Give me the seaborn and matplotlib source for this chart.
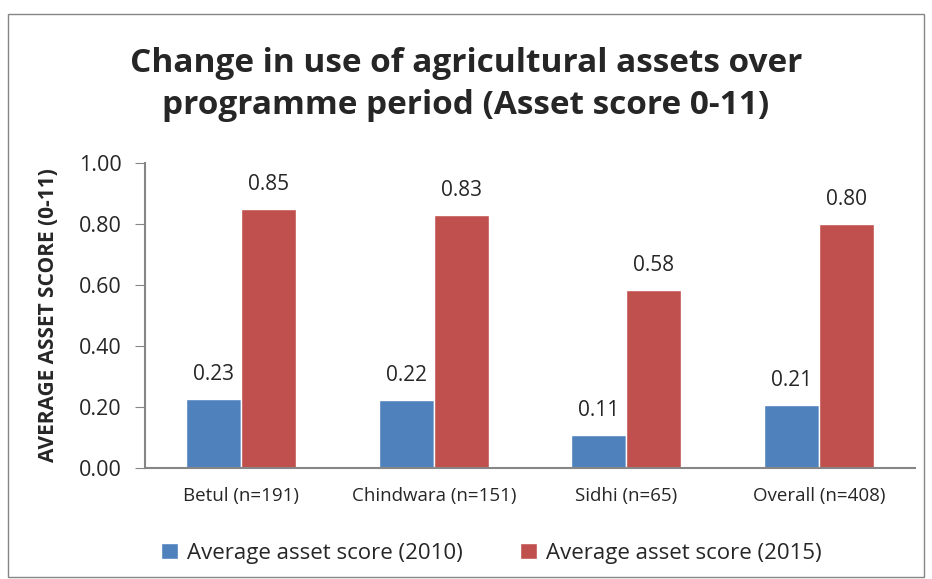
import pandas as pd
import matplotlib
matplotlib.use('Agg')
import matplotlib.pyplot as plt
import seaborn as sns

districts = ['Betul (n=191)', 'Chindwara (n=151)', 'Sidhi (n=65)', 'Overall (n=408)']
score_2010 = [0.225, 0.224, 0.108, 0.206]
score_2015 = [0.849, 0.829, 0.585, 0.799]
labels_2010 = ['0.23', '0.22', '0.11', '0.21']
labels_2015 = ['0.85', '0.83', '0.58', '0.80']
series = ['Average asset score (2010)', 'Average asset score (2015)']

df = pd.DataFrame({
    'district': districts * 2,
    'series': [series[0]] * 4 + [series[1]] * 4,
    'score': score_2010 + score_2015,
})

sns.set_style('white')
plt.rcParams['font.family'] = ['Open Sans', 'DejaVu Sans']

fig = plt.figure(figsize=(9.32, 5.79), dpi=100)
ax = fig.add_axes([0.1556, 0.1917, 0.8262, 0.5268])
sns.barplot(data=df, x='district', y='score', hue='series',
            palette=['#4F81BD', '#C0504D'], width=0.572, saturation=1,
            ax=ax, errorbar=None)

for cont, labs in zip(ax.containers, [labels_2010, labels_2015]):
    ax.bar_label(cont, labels=labs, padding=10, fontsize=15)

ax.set_ylim(0, 1.0)
ax.set_yticks([0, 0.2, 0.4, 0.6, 0.8, 1.0])
ax.set_yticklabels(['%.2f' % v for v in [0, 0.2, 0.4, 0.6, 0.8, 1.0]], fontsize=15.5)
ax.set_xlim(-0.5, 3.5)
ax.set_xticks([0, 1, 2, 3])
ax.set_xticklabels(districts, fontsize=13.5)
ax.set_xticks([-0.5, 0.5, 1.5, 2.5, 3.5], minor=True)
ax.tick_params(axis='x', which='major', length=0, pad=14)
ax.tick_params(axis='x', which='minor', length=7, color='#868686', direction='out')
ax.tick_params(axis='y', length=7, color='#868686', direction='out', left=True, pad=10)
ax.set_xlabel('')
ax.set_ylabel('AVERAGE ASSET SCORE (0-11)', fontsize=15, fontweight='bold', labelpad=14)
for s in ['top', 'right']:
    ax.spines[s].set_visible(False)
for s in ['left', 'bottom']:
    ax.spines[s].set_color('#868686')
    ax.spines[s].set_linewidth(1.5)

fig.suptitle('Change in use of agricultural assets over\nprogramme period (Asset score 0-11)',
             x=0.5, y=0.918, fontsize=24, fontweight='bold', linespacing=1.35)

ax.legend(loc='center', bbox_to_anchor=(0.45, -0.28), ncol=2, frameon=False,
          fontsize=16, handlelength=0.75, handleheight=0.75, columnspacing=2.6,
          handletextpad=0.4)

fig.patches.append(plt.Rectangle((0.009, 0.003), 0.982, 0.972, transform=fig.transFigure,
                                 fill=False, edgecolor='#868686', linewidth=1))

fig.savefig('out.png', dpi=100)
